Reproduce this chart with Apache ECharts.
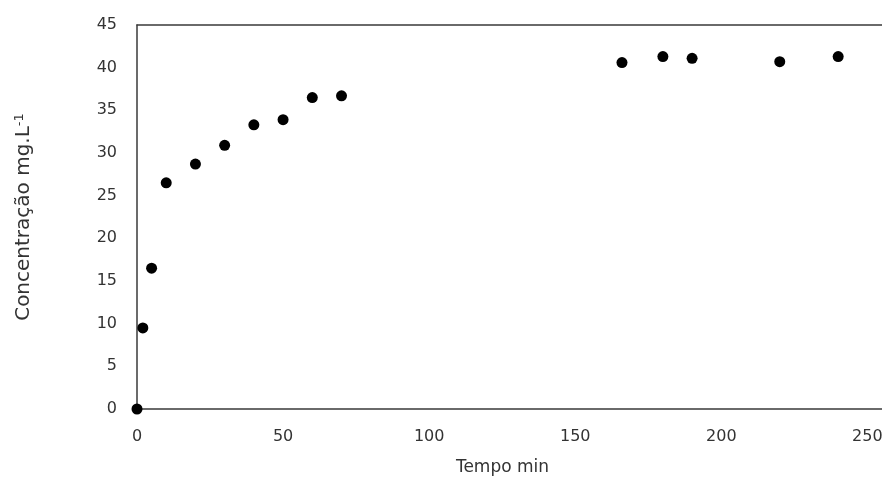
<!DOCTYPE html>
<html>
<head>
<meta charset="utf-8">
<script src="https://cdn.jsdelivr.net/npm/echarts@6/dist/echarts.min.js"></script>
<style>
  html, body { margin: 0; padding: 0; background: #fff; overflow: hidden; }
  #chart { width: 882px; height: 487px; }
</style>
</head>
<body>
<div id="chart"></div>
<script>
// Concentration over time (minutes)
const tempo = [0, 2, 5, 10, 20, 30, 40, 50, 60, 70, 166, 180, 190, 220, 240];
const concentracao = [0, 9.5, 16.5, 26.5, 28.7, 30.9, 33.3, 33.9, 36.5, 36.7, 40.6, 41.3, 41.1, 40.7, 41.3];

const xTicks = [0, 50, 100, 150, 200, 250];
const yTicks = [0, 5, 10, 15, 20, 25, 30, 35, 40, 45];

const points = tempo.map((t, i) => [t, concentracao[i]]);

const font = 'DejaVu Sans';
const textColor = '#333333';
const lineColor = '#3a3a3a';

const chart = echarts.init(document.getElementById('chart'), null, { renderer: 'canvas' });
chart.setOption({
  animation: false,
  backgroundColor: '#ffffff',
  grid: { left: 137, top: 25, right: 0, bottom: 78, outerBoundsMode: 'none', containLabel: false },
  xAxis: [{
    type: 'value',
    min: 0, max: 255, interval: 50,
    name: 'Tempo min',
    nameLocation: 'middle',
    nameGap: 50,
    nameTextStyle: { fontFamily: font, fontSize: 17, color: textColor, padding: [0, 14, 0, 0] },
    axisLine: { show: true, lineStyle: { color: lineColor, width: 1.5 } },
    axisTick: { show: false },
    splitLine: { show: false },
    axisLabel: {
      fontFamily: font, fontSize: 16, color: textColor, margin: 20,
      showMaxLabel: false,
      formatter: v => (xTicks.includes(v) ? String(v) : '')
    }
  }, {
    // plain frame line along the top of the plot
    type: 'value',
    position: 'top',
    min: 0, max: 255,
    axisLine: { show: true, lineStyle: { color: lineColor, width: 1.5 } },
    axisTick: { show: false },
    axisLabel: { show: false },
    splitLine: { show: false }
  }],
  yAxis: {
    type: 'value',
    min: 0, max: 45, interval: 5,
    name: 'Concentração mg.L{sup|-1}',
    nameLocation: 'middle',
    nameGap: 102,
    nameRotate: 90,
    nameTextStyle: {
      fontFamily: font, fontSize: 20, color: textColor,
      rich: {
        sup: { fontFamily: font, fontSize: 13, color: textColor, verticalAlign: 'top', padding: [0, 0, 9, 0] }
      }
    },
    axisLine: { show: true, lineStyle: { color: lineColor, width: 1.5 } },
    axisTick: { show: false },
    splitLine: { show: false },
    axisLabel: {
      fontFamily: font, fontSize: 16, color: textColor, margin: 20,
      formatter: v => (yTicks.includes(v) ? String(v) : '')
    }
  },
  series: [{
    type: 'scatter',
    xAxisIndex: 0,
    data: points,
    symbol: 'circle',
    symbolSize: 11,
    itemStyle: { color: '#000000', opacity: 1 },
    clip: false
  }]
});
</script>
</body>
</html>
